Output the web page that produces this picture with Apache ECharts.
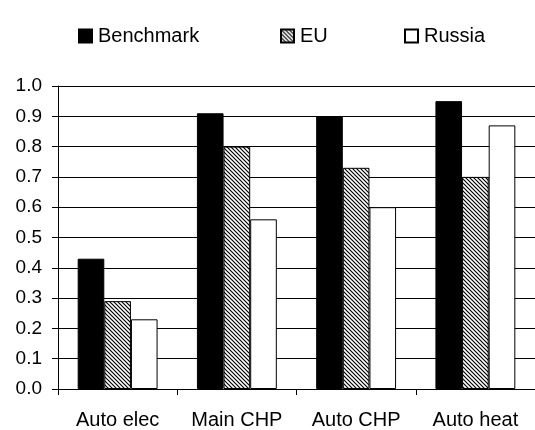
<!DOCTYPE html>
<html>
<head>
<meta charset="utf-8">
<script src="https://cdn.jsdelivr.net/npm/echarts@6/dist/echarts.min.js"></script>
<style>
  html, body { margin: 0; padding: 0; background: #fff; }
  #chart { width: 535px; height: 430px; }
</style>
</head>
<body>
<div id="chart"></div>
<script>
// Categories and values per series
const categories = ['Auto elec', 'Main CHP', 'Auto CHP', 'Auto heat'];
const benchmark = [0.43, 0.91, 0.90, 0.95];
const eu = [0.29, 0.80, 0.73, 0.70];
const russia = [0.23, 0.56, 0.60, 0.87];
const yTicks = [0.0, 0.1, 0.2, 0.3, 0.4, 0.5, 0.6, 0.7, 0.8, 0.9, 1.0];

// Diagonal hatch pattern for the EU bars
function hatch() {
  const s = 4;
  const c = document.createElement('canvas');
  c.width = s; c.height = s;
  const g = c.getContext('2d');
  g.fillStyle = '#fff';
  g.fillRect(0, 0, s, s);
  g.strokeStyle = '#000';
  g.lineWidth = 1.2;
  g.beginPath();
  g.moveTo(-1, -1); g.lineTo(s + 1, s + 1);
  g.moveTo(-1 - s, -1); g.lineTo(1, s + 1);
  g.moveTo(s - 1, -1); g.lineTo(2 * s + 1, s + 1);
  g.stroke();
  return c;
}

const font = 'Liberation Sans, Arial, sans-serif';
const legendBase = {
  top: 21, itemWidth: 13, itemHeight: 13, itemGap: 0,
  icon: 'rect',
  textStyle: { fontFamily: font, fontSize: 20, color: '#000', padding: [0, 0, 0, 1] }
};

const chart = echarts.init(document.getElementById('chart'));
chart.setOption({
  animation: false,
  backgroundColor: '#fff',
  legend: [
    Object.assign({}, legendBase, { left: 73, data: ['Benchmark'] }),
    Object.assign({}, legendBase, { left: 275, data: ['EU'] }),
    Object.assign({}, legendBase, { left: 399, data: ['Russia'] })
  ],
  grid: { left: 58, right: -3, top: 86, bottom: 40 },
  xAxis: {
    type: 'category',
    data: categories,
    boundaryGap: true,
    axisLine: { lineStyle: { color: '#000', width: 1 } },
    axisTick: { show: true, length: 6, lineStyle: { color: '#000' } },
    axisLabel: { fontFamily: font, fontSize: 20, color: '#000', margin: 21 }
  },
  yAxis: {
    type: 'value',
    min: yTicks[0],
    max: yTicks[yTicks.length - 1],
    interval: 0.1,
    axisLine: { show: true, lineStyle: { color: '#000', width: 1 } },
    axisTick: { show: true, length: 6, lineStyle: { color: '#000' } },
    axisLabel: {
      fontFamily: font, fontSize: 19, color: '#000', margin: 16,
      formatter: v => v.toFixed(1)
    },
    splitLine: { show: true, lineStyle: { color: '#000', width: 1 } }
  },
  series: [
    {
      name: 'Benchmark', type: 'bar', data: benchmark,
      barGap: '0%', barCategoryGap: '33%',
      itemStyle: { color: '#000', borderColor: '#000', borderWidth: 1 }
    },
    {
      name: 'EU', type: 'bar', data: eu,
      itemStyle: { color: { image: hatch(), repeat: 'repeat' }, borderColor: '#000', borderWidth: 1 }
    },
    {
      name: 'Russia', type: 'bar', data: russia,
      itemStyle: { color: '#fff', borderColor: '#000', borderWidth: 1 }
    }
  ]
});
</script>
</body>
</html>
